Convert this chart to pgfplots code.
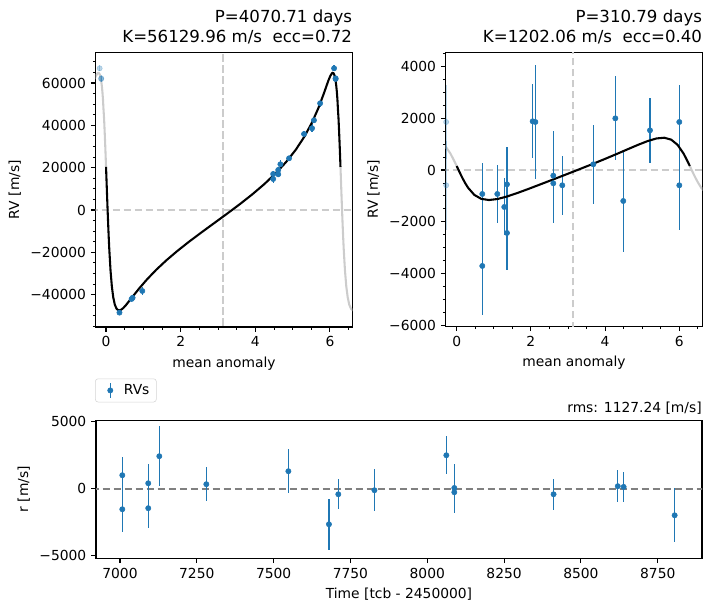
\documentclass[border=0pt]{standalone}
\usepackage{fontspec}
\setmainfont{DejaVu Sans}
\usepackage{pgfplots}
\pgfplotsset{compat=1.18}
\usepackage{pgfplotstable}
\definecolor{tabblue}{HTML}{1F77B4}
\definecolor{lgray}{HTML}{CCCCCC}
\definecolor{dgray}{HTML}{808080}
\definecolor{leggray}{HTML}{D5D5D5}

\pgfplotsset{
  mystyle/.style={
    scale only axis,
    tick align=outside,
    tick pos=left,
    major tick length=3.5pt,
    minor tick length=2pt,
    every major tick/.append style={black, line width=0.8pt},
    every minor tick/.append style={black, line width=0.6pt},
    axis line style={line width=0.8pt},
    tick label style={font=\fontsize{10}{12}\selectfont},
    label style={font=\fontsize{10}{12}\selectfont},
    scaled ticks=false,
  },
  rvdata/.style={only marks, mark=*, mark size=1.9pt, color=tabblue,
    mark options={fill=tabblue, draw=tabblue},
    error bars/y dir=both, error bars/y explicit, error bars/error mark=none,
    error bars/error bar style={line width=0.9pt, draw=tabblue, solid}},
  rvfaded/.style={only marks, mark=*, mark size=1.9pt, color=tabblue,
    mark options={fill=tabblue, draw=tabblue, opacity=0.3},
    error bars/y dir=both, error bars/y explicit, error bars/error mark=none,
    error bars/error bar style={line width=0.9pt, draw=tabblue, opacity=0.3}},
  zeroline/.style={lgray, line width=1.5pt, dash pattern=on 5.55pt off 2.4pt, forget plot},
  model/.style={black, line width=1.5pt, forget plot},
  modelgrey/.style={lgray, line width=1.5pt, forget plot},
}

\pgfplotstableread{
x y e
4.480 17000 1390
4.480 14650 1710
4.615 18900 1420
4.615 16860 1500
4.673 21590 2230
4.906 24420 1270
5.307 35900 1640
5.522 38600 1900
5.572 42380 1120
5.738 50400 1550
6.112 66940 1420
6.153 62200 1770
6.153 61900 1520
0.360 -48500 1120
0.686 -42050 1190
0.712 -41500 1090
0.972 -38270 2020
}\dataA

\pgfplotstableread{
x y e
-0.171 66940 1420
-0.130 62200 1770
-0.130 61900 1520
}\dataAf

\pgfplotstableread{
x y e
0.690 -926 1184
0.690 -3702 1890
1.095 -926 1110
1.283 -1427 1100
1.355 -553 1430
1.355 -2430 1430
2.048 1877 1430
2.120 1851 2210
2.604 -219 1720
2.604 -514 1540
2.846 -591 1140
3.683 219 1520
4.276 1992 1620
4.490 -1196 1960
5.210 1530 1250
6.000 1851 1430
6.000 -591 1720
}\dataB

\pgfplotstableread{
x y e
-0.283 1851 1430
-0.283 -591 1720
}\dataBf

\pgfplotstableread{
x y e
7007.6 1000 1390
7007.6 -1540 1710
7092 400 1420
7092 -1460 1500
7128 2420 2230
7281 330 1270
7548 1300 1640
7680 -2660 1900
7710.5 -420 1120
7828 -120 1570
8062 2490 1420
8088 50 1770
8088 -270 1520
8411 -420 1150
8620 180 1190
8639 130 1110
8805 -1990 2020
}\dataR

\begin{document}
\begin{tikzpicture}
\useasboundingbox (0,0) rectangle (7.11in,6.11in);

% ---------------- Panel 1 ----------------
\begin{axis}[mystyle,
  at={(0.957in,2.84in)}, anchor=south west,
  width=2.566in, height=2.747in,
  xmin=-0.277, xmax=6.6, ymin=-55300, ymax=74500,
  xtick={0,2,4,6}, xticklabels={0,2,4,6},
  minor xtick={-0.5,0,...,6.5},
  ytick={-40000,-20000,0,20000,40000,60000},
  yticklabels={−40000,−20000,0,20000,40000,60000},
  minor ytick={-55000,-50000,...,75000},
  xlabel={mean anomaly}, ylabel={RV [m/s]},
  title={P=4070.71 days\\K=56129.96 m/s\ \ ecc=0.72},
  title style={at={(1,1)}, anchor=south east, align=right, inner sep=0pt, yshift=0pt, font=\fontsize{12}{14.4}\selectfont},
]
\addplot[modelgrey] coordinates {
(-0.3268,61020) (-0.2752,63260) (-0.2287,64590) (-0.2106,64790) (-0.1867,64600)
(-0.1672,63980) (-0.1487,62850) (-0.1309,61160) (-0.1140,58860) (-0.0976,55920)
(-0.0820,52270) (-0.0685,47740) (-0.0520,43000) (-0.0377,37420) (-0.0234,31350)
(-0.0093,24870) (0,20400)
};
\addplot[modelgrey] coordinates {
(6.2832,20400) (6.2972,13530) (6.3113,6630) (6.3256,-150)
(6.3402,-6680) (6.3551,-12850) (6.3704,-18550) (6.4028,-28380) (6.4380,-35930)
(6.4767,-41300) (6.5194,-44790) (6.5667,-46730) (6.6190,-47450) (6.677,-47260)
};
\addplot[zeroline] coordinates {(-1,0) (7,0)};
\addplot[zeroline] coordinates {(3.14159,-60000) (3.14159,80000)};
\addplot[rvfaded, forget plot] table[x=x,y=y,y error=e]{\dataAf};
\addplot[rvdata, forget plot] table[x=x,y=y,y error=e]{\dataA};
\addplot[model] coordinates {
(0,20400) (0.0140,13530) (0.0281,6630) (0.0424,-150) (0.0570,-6680) (0.0719,-12850)
(0.0872,-18550) (0.1196,-28380) (0.1548,-35930) (0.1935,-41300) (0.2362,-44790)
(0.2835,-46730) (0.336,-47450) (0.3941,-47260) (0.4583,-46400) (0.5289,-45060)
(0.6905,-41480) (0.8803,-37250) (1.0988,-32790) (1.3453,-28260) (1.6179,-23770)
(1.9137,-19330) (2.2288,-14940) (2.5588,-10580) (2.8984,-6210) (3.2420,-1790)
(3.5840,2720) (3.9186,7360) (4.2405,12200) (4.5449,17290) (4.8275,22690)
(5.0852,28460) (5.3155,34640) (5.5172,41230) (5.6904,48120) (5.8361,54980)
(5.9564,61020) (6.0080,63260) (6.0545,64590) (6.0726,64790) (6.0965,64600)
(6.1160,63980) (6.1345,62850) (6.1523,61160) (6.1692,58860) (6.1856,55920)
(6.2012,52270) (6.2147,47740) (6.2312,43000) (6.2455,37420) (6.2598,31350)
(6.2739,24870) (6.2832,20400)
};
\end{axis}

% ---------------- Panel 2 ----------------
\begin{axis}[mystyle,
  at={(4.457in,2.847in)}, anchor=south west,
  width=2.566in, height=2.74in,
  xmin=-0.296, xmax=6.62, ymin=-6030, ymax=4540,
  xtick={0,2,4,6}, xticklabels={0,2,4,6},
  minor xtick={-0.5,0,...,6.5},
  ytick={-6000,-4000,-2000,0,2000,4000},
  yticklabels={−6000,−4000,−2000,0,2000,4000},
  minor ytick={-6000,-5500,...,4500},
  xlabel={mean anomaly}, ylabel={RV [m/s]},
  title={P=310.79 days\\K=1202.06 m/s\ \ ecc=0.40},
  title style={at={(1,1)}, anchor=south east, align=right, inner sep=0pt, yshift=0pt, font=\fontsize{12}{14.4}\selectfont},
]
\addplot[modelgrey] coordinates {
(-0.330,970) (-0.171,640) (-0.080,390) (-0.038,266) (0,152)
};
\addplot[modelgrey] coordinates {
(6.2832,152) (6.358,-77) (6.434,-299) (6.512,-505) (6.591,-688) (6.760,-963)
};
\addplot[zeroline] coordinates {(-1,0) (7,0)};
\addplot[zeroline] coordinates {(3.14159,-7000) (3.14159,5000)};
\addplot[rvfaded, forget plot] table[x=x,y=y,y error=e]{\dataBf};
\addplot[rvdata, forget plot] table[x=x,y=y,y error=e]{\dataB};
\addplot[model] coordinates {
(0,152) (0.0751,-77) (0.151,-299) (0.2285,-505) (0.308,-688) (0.477,-963)
(0.663,-1115) (0.870,-1159) (1.101,-1120) (1.356,-1023) (1.636,-888) (1.939,-728)
(2.261,-552) (2.597,-367) (2.944,-175) (3.293,20) (3.640,218) (3.979,416)
(4.303,611) (4.608,799) (4.891,972) (5.150,1117) (5.384,1216) (5.594,1244)
(5.782,1170) (5.953,970) (6.112,640) (6.203,390) (6.2452,266) (6.2832,152)
};
\end{axis}

% ---------------- Residuals ----------------
\begin{axis}[mystyle,
  at={(0.96in,0.527in)}, anchor=south west,
  width=6.06in, height=1.38in,
  xmin=6922, xmax=8894, ymin=-5200, ymax=5100,
  xtick={7000,7250,7500,7750,8000,8250,8500,8750},
  xticklabels={7000,7250,7500,7750,8000,8250,8500,8750},
  ytick={-5000,0,5000}, yticklabels={−5000,0,5000},
  xlabel={Time [tcb - 2450000]}, ylabel={r [m/s]},
  title={rms: 1127.24 [m/s]},
  title style={at={(1,1)}, anchor=south east, inner sep=0pt, yshift=-2pt, font=\fontsize{10}{12}\selectfont},
  legend style={at={(0,1)}, anchor=south west, xshift=-0.7pt, yshift=13pt,
    draw=leggray, rounded corners=2pt, font=\fontsize{10}{12}\selectfont,
    inner xsep=3pt, inner ysep=2pt},
  legend cell align=left,
]
\addplot[dgray, line width=1.5pt, dash pattern=on 5.55pt off 2.4pt, forget plot] coordinates {(6800,0) (9000,0)};
\addplot[rvdata,
  legend image code/.code={
    \path[draw=none, fill=none] (0cm,0cm) rectangle (0.55cm,0.01cm);
    \draw[tabblue, line width=0.8pt, solid] (0.275cm,-0.18cm) -- (0.275cm,0.18cm);
    \fill[tabblue] (0.275cm,0cm) circle (1.9pt);
  }] table[x=x,y=y,y error=e]{\dataR};
\addlegendentry{RVs}
\end{axis}
\end{tikzpicture}
\end{document}
